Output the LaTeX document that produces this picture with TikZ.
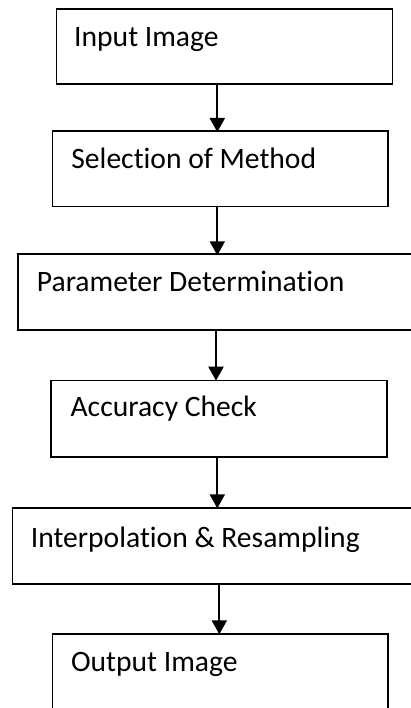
\documentclass[tikz,border=0pt]{standalone}
\usepackage{fontspec}
\setmainfont{Carlito}[Ligatures={NoCommon,NoContextual}]
\usetikzlibrary{arrows.meta}
\begin{document}
\begin{tikzpicture}[x=1pt,y=-1pt,
  box/.style={draw, line width=1.6pt, rectangle, inner sep=0pt, anchor=north west},
  lbl/.style={anchor=base west, inner sep=0pt, font=\fontsize{29.6}{34}\selectfont},
  arr/.style={line width=2.2pt, -{Triangle[width=15pt,length=14pt]}}]
\clip (0,0) rectangle (411,708);
\fill[white] (0,0) rectangle (411,708);

% process boxes
\node[box, minimum width=336pt, minimum height=75.3pt] (b1) at (55.7,8) {};
\node[box, minimum width=335.3pt, minimum height=75.7pt] (b2) at (51.7,130) {};
\node[box, minimum width=420pt, minimum height=76pt] (b3) at (17.3,253.3) {};
\node[box, minimum width=336pt, minimum height=76.3pt] (b4) at (50,379.7) {};
\node[box, minimum width=420pt, minimum height=76pt] (b5) at (11.7,507.3) {};
\node[box, minimum width=335.6pt, minimum height=80pt] (b6) at (51.7,633.3) {};

% box captions
\node[lbl] (t1) at ([shift={(18.3pt,-38.7pt)}]b1.north west) {Input Image};
\node[lbl] (t2) at ([shift={(19.5pt,-38.3pt)}]b2.north west) {Selection of Method};
\node[lbl] (t3) at ([shift={(19.4pt,-38.4pt)}]b3.north west) {Parameter Determination};
\node[lbl] (t4) at ([shift={(20.4pt,-37pt)}]b4.north west) {Accuracy Check};
\node[lbl] (t5) at ([shift={(18.9pt,-40pt)}]b5.north west) {Interpolation \& Resampling};
\node[lbl] (t6) at ([shift={(19.2pt,-38.4pt)}]b6.north west) {Output Image};

% flow arrows
\draw[arr] ([xshift=161.6pt]b1.south west) -- ([shift={(165.6pt,-2pt)}]b2.north west);
\draw[arr] ([xshift=165.6pt]b2.south west) -- ([shift={(200pt,-2pt)}]b3.north west);
\draw[arr] ([xshift=198.7pt]b3.south west) -- ([shift={(166pt,-1pt)}]b4.north west);
\draw[arr] ([xshift=167.3pt]b4.south west) -- ([shift={(205.6pt,-1pt)}]b5.north west);
\draw[arr] ([xshift=207.6pt]b5.south west) -- ([shift={(167.6pt,-1pt)}]b6.north west);
\end{tikzpicture}
\end{document}
